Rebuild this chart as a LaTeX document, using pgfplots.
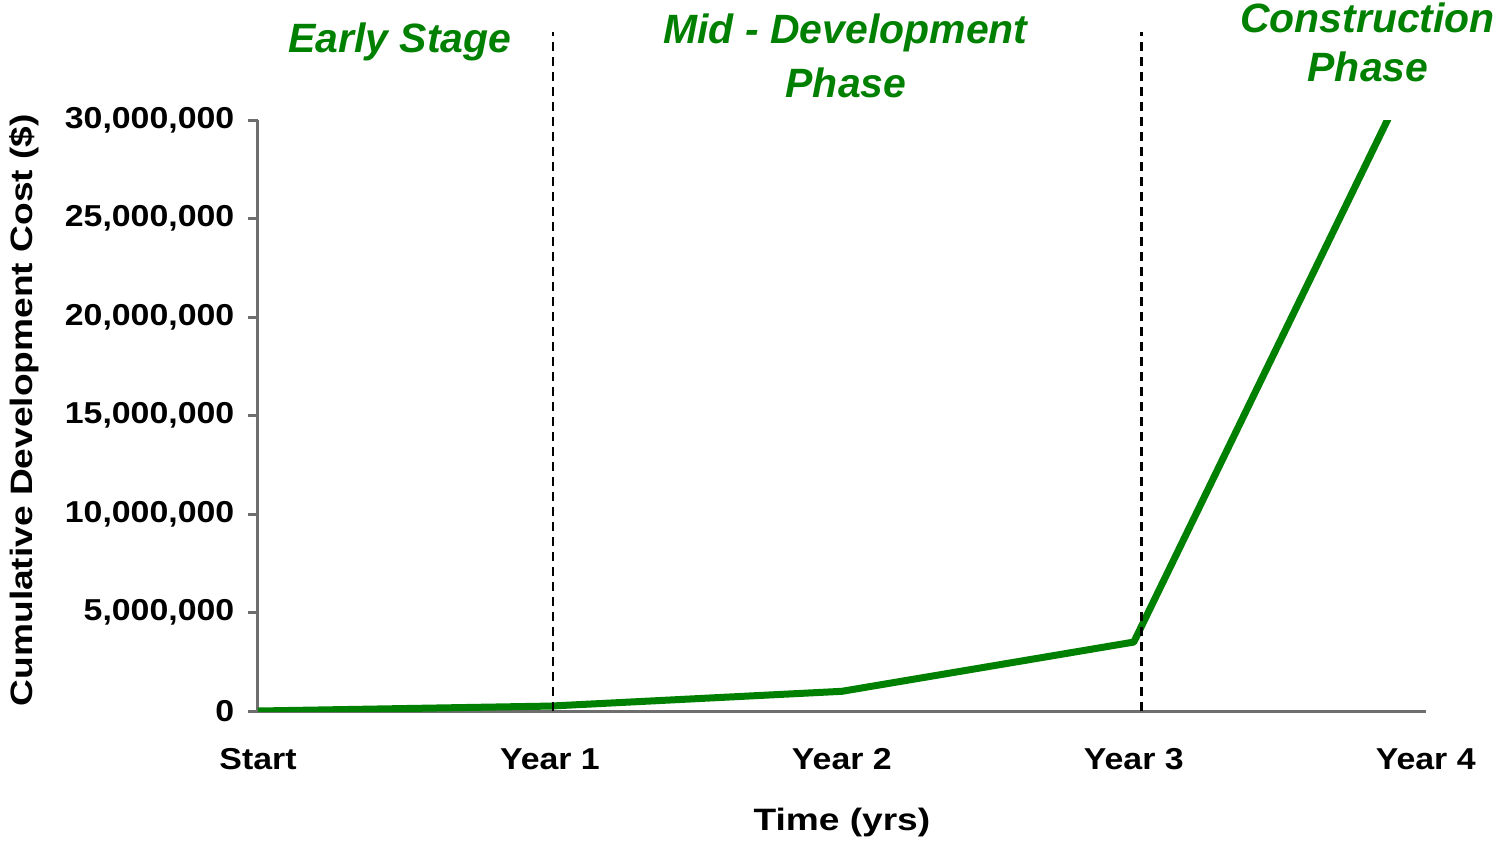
\documentclass[border=0pt]{standalone}
\usepackage{fontspec}
\setmainfont{Liberation Sans}
\newfontfamily\tickfont{Liberation Sans}[FakeStretch=1.12]
\newfontfamily\labfont{Liberation Sans}[FakeStretch=1.2]
\newfontfamily\grfont{Liberation Sans}
\usepackage{pgfplots}
\pgfplotsset{compat=1.18}
\definecolor{phasegreen}{RGB}{0,128,0}
\definecolor{axgray}{RGB}{110,110,110}

\begin{document}
\begin{tikzpicture}
\path[use as bounding box] (0,0) rectangle (14.97,-8.42);
\begin{axis}[
  at={(2.58cm,-7.11cm)}, anchor=south west,
  scale only axis, width=11.6775cm, height=5.91cm,
  xmin=0, xmax=4, ymin=0, ymax=30000000,
  axis lines*=left,
  axis line style={axgray, line width=0.3mm, -},
  xtick={0,1,2,3,4},
  xticklabels={Start,Year 1,Year 2,Year 3,Year 4},
  x tick style={draw=none},
  ytick={0,5000000,10000000,15000000,20000000,25000000,30000000},
  y tick style={axgray, line width=0.3mm},
  tick align=outside, major tick length=0.1cm,
  scaled y ticks=false,
  /pgf/number format/assume math mode=true,
  tick label style={font=\tickfont\fontsize{8.6pt}{10pt}\selectfont\bfseries},
  yticklabel style={anchor=east, inner sep=0pt, xshift=-0.13cm, /pgf/number format/.cd, fixed, 1000 sep={,}},
  xticklabel style={anchor=base, inner sep=0pt, yshift=-0.48cm},
  xlabel={Time (yrs)},
  ylabel={Cumulative Development Cost (\$)},
  label style={font=\labfont\fontsize{8.8pt}{10pt}\selectfont\bfseries},
  xlabel style={at={([yshift=-1.19cm]axis description cs:0.5,0)}, anchor=base, inner sep=0pt},
  ylabel style={at={([xshift=-2.25cm]axis description cs:0,0.509)}, anchor=base, inner sep=0pt},
  clip mode=individual,
]
\addplot[phasegreen, line width=0.07cm, line join=round] coordinates {
  (0,0) (1,250000) (2,1000000) (3,3500000) (4,34000000)
};
\draw[black, line width=0.24mm, dash pattern=on 0.09cm off 0.06cm] (axis cs:1.011,0) -- (axis cs:1.011,34470000);
\draw[black, line width=0.24mm, dash pattern=on 0.09cm off 0.06cm] (axis cs:3.027,0) -- (axis cs:3.027,34470000);
\end{axis}
\begin{scope}[every node/.style={text=phasegreen, inner sep=0pt, anchor=base, font=\grfont\fontsize{11.65pt}{13pt}\selectfont\bfseries\itshape}]
\node at (4.00,-0.52) {Early Stage};
\node at (8.455,-0.43) {Mid - Development};
\node at (8.46,-0.97) {Phase};
\node at (13.675,-0.325) {Construction};
\node at (13.68,-0.817) {Phase};
\end{scope}
\end{tikzpicture}
\end{document}
